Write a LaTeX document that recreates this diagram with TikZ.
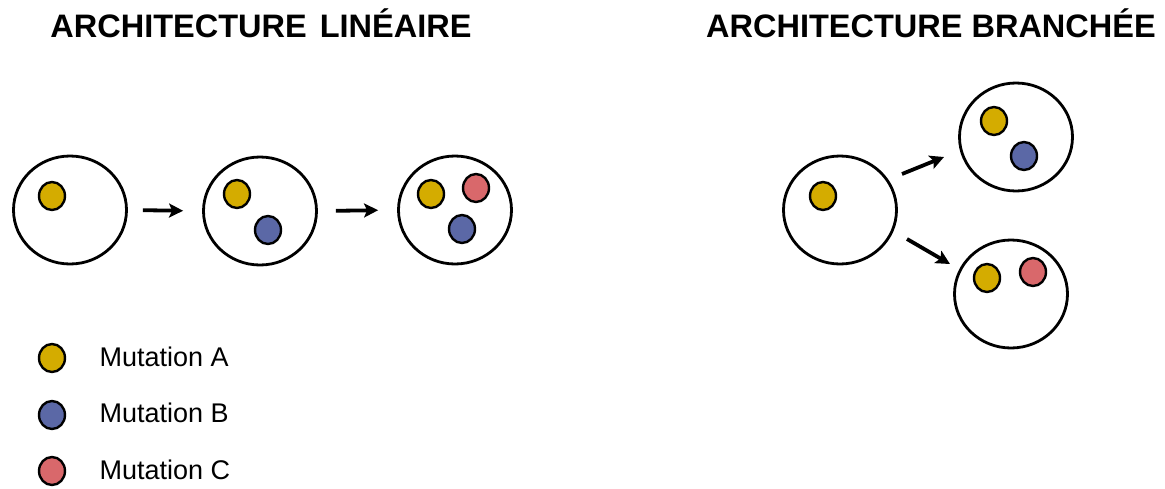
\documentclass[tikz,border=0pt]{standalone}
\usepackage{fontspec}
\setmainfont{Liberation Sans}
\usetikzlibrary{shapes.geometric,arrows.meta}
\definecolor{mutA}{RGB}{212,172,0}
\definecolor{mutB}{RGB}{91,104,166}
\definecolor{mutC}{RGB}{217,104,107}
\begin{document}
\begin{tikzpicture}[x=1pt,y=-1pt,
  cell/.style={ellipse,draw=black,line width=2.8pt,fill=white,minimum width=113pt,minimum height=108pt,inner sep=0pt},
  dot/.style={ellipse,draw=black,line width=2.4pt,minimum width=26pt,minimum height=28pt,inner sep=0pt},
  arr/.style={line width=3.8pt,-{Stealth[length=14pt,width=14pt,inset=3pt]}},
  title/.style={font=\fontsize{32.5}{36}\selectfont\bfseries,anchor=base},
  legend/.style={font=\fontsize{27}{30}\selectfont,anchor=base west}]
\useasboundingbox (0,0) rectangle (1165,488);

% titles
\node[title] (t1) at (261,37) {ARCHITECTURE\hspace{4pt} LINÉAIRE};
\node[title] (t2) at (931,37) {ARCHITECTURE BRANCHÉE};

% linear architecture
\node[cell] (l1) at (70,210) {};
\node[dot,fill=mutA] (l1a) at (52,196) {};

\node[cell] (l2) at (260,211) {};
\node[dot,fill=mutA] (l2a) at (237,194) {};
\node[dot,fill=mutB] (l2b) at (268,230) {};

\node[cell] (l3) at (455,210) {};
\node[dot,fill=mutA] (l3a) at (431,194) {};
\node[dot,fill=mutC] (l3c) at (476,188) {};
\node[dot,fill=mutB] (l3b) at (462,229) {};

\draw[arr,shorten <=15pt,shorten >=19pt] (l1.east) -- (l2.west);
\draw[arr,shorten <=18pt,shorten >=19pt] (l2.east) -- (l3.west);

% branched architecture
\node[cell] (b0) at (840,210) {};
\node[dot,fill=mutA] (b0a) at (823,196) {};

\node[cell] (b1) at (1016,137) {};
\node[dot,fill=mutA] (b1a) at (994,121) {};
\node[dot,fill=mutB] (b1b) at (1024,156) {};

\node[cell] (b2) at (1011,294) {};
\node[dot,fill=mutA] (b2a) at (987,278) {};
\node[dot,fill=mutC] (b2c) at (1033,272) {};

\coordinate (s1) at (902,174);
\coordinate (e1) at (944,157);
\coordinate (s2) at (907,239);
\coordinate (e2) at (950,264);
\draw[arr] (s1) -- (e1);
\draw[arr] (s2) -- (e2);

% legend
\node[dot,fill=mutA] (ka) at (52,358) {};
\node[dot,fill=mutB] (kb) at (52,415) {};
\node[dot,fill=mutC] (kc) at (52,471) {};
\node[legend] (la) at (96,366) {Mutation A};
\node[legend] (lb) at (96,422) {Mutation B};
\node[legend] (lc) at (96,479) {Mutation C};
\end{tikzpicture}
\end{document}
